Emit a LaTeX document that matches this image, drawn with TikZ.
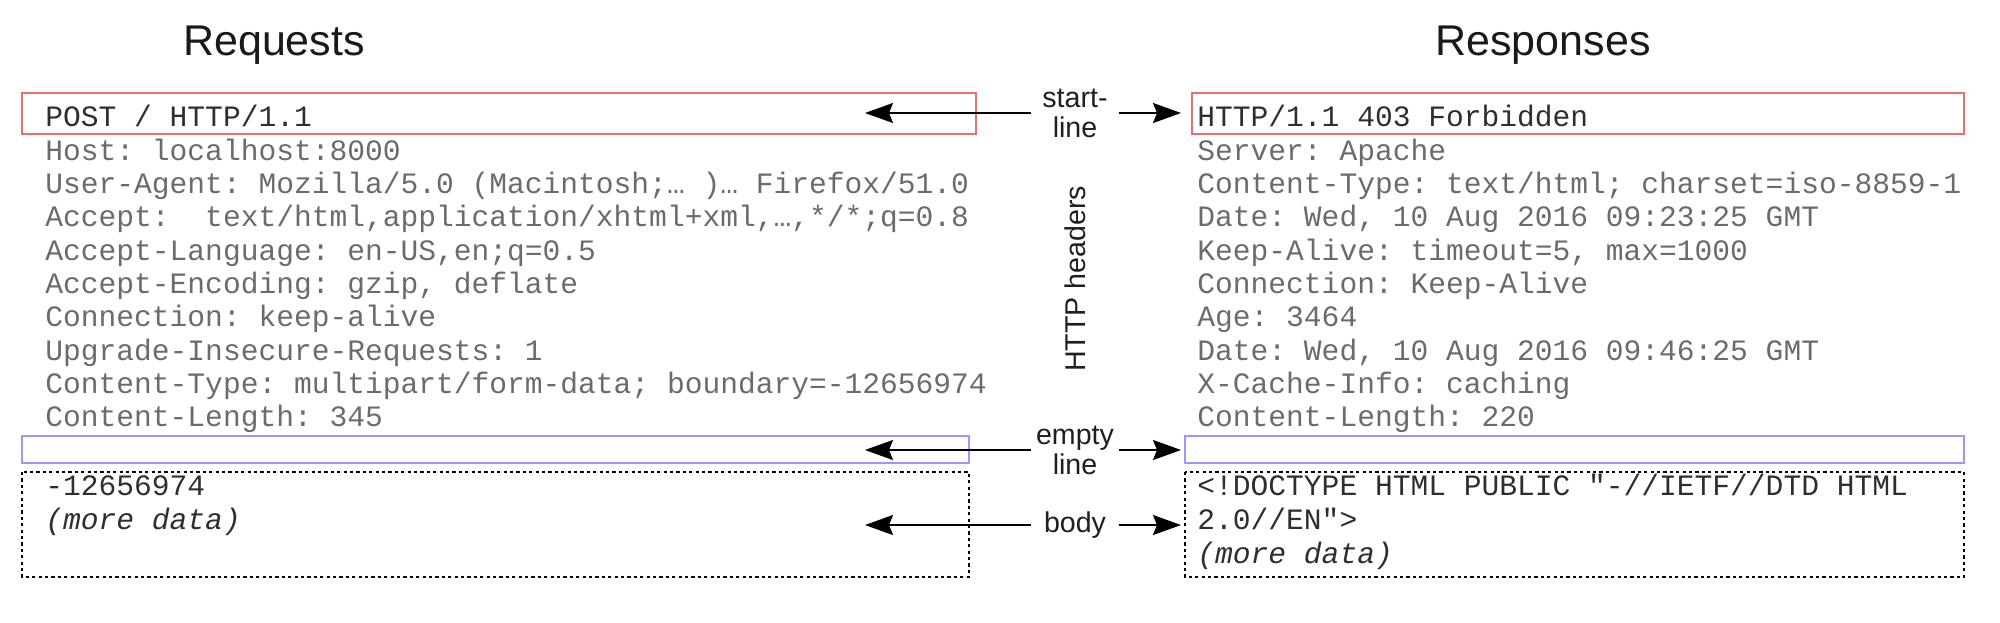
\documentclass[tikz,border=0pt]{standalone}
\usepackage{fontspec}
\setmainfont{Liberation Sans}
\setmonofont{Liberation Mono}
\usetikzlibrary{arrows.meta}
\definecolor{startred}{RGB}{236,112,106}
\definecolor{emptyblue}{RGB}{152,152,252}

\begin{document}
\begin{tikzpicture}[x=0.5pt,y=-0.5pt,
        title/.style={anchor=base,inner sep=0pt,font=\fontsize{21.5}{24}\selectfont,text=black!90},
        lbl/.style={inner sep=0pt,minimum width=44pt,align=center,font=\fontsize{14.3}{15}\selectfont,text=black!88},
        msg/.style={anchor=base west,inner sep=0pt,font=\ttfamily\fontsize{14.8}{16}\selectfont,text=black!58},
        firstline/.style={msg,text=black!82},
        ptr/.style={line width=1pt,-{Stealth[length=14pt,width=10pt,inset=2pt]}}]
            \useasboundingbox (0,0) rectangle (2000,622);

            % titles
            \node[title] (req) at (274,55) {Requests};
            \node[title] (resp) at (1543,55) {Responses};

            % boxes
            \draw[startred,line width=1pt] (22,93) rectangle (976,134);
            \draw[startred,line width=1pt] (1192,93) rectangle (1964,134);
            \draw[emptyblue,line width=1pt] (22,436) rectangle (969,463);
            \draw[emptyblue,line width=1pt] (1185,436) rectangle (1964,463);
            \draw[line width=0.7pt,dash pattern=on 1.6pt off 1.6pt] (22,472) rectangle (969,577);
            \draw[line width=0.7pt,dash pattern=on 1.6pt off 1.6pt] (1185,472) rectangle (1964,577);

            % request
            \node[firstline] (q0) at (45,126.7) {POST / HTTP/1.1};
            \node[msg] (q1) at (45,160) {Host: localhost:8000};
            \node[msg] (q2) at (45,193.3) {User-Agent: Mozilla/5.0 (Macintosh;… )… Firefox/51.0};
            \node[msg] (q3) at (45,226.7) {Accept:\ \ text/html,application/xhtml+xml,…,*/*;q=0.8};
            \node[msg] (q4) at (45,260) {Accept-Language: en-US,en;q=0.5};
            \node[msg] (q5) at (45,293.3) {Accept-Encoding: gzip, deflate};
            \node[msg] (q6) at (45,326.7) {Connection: keep-alive};
            \node[msg] (q7) at (45,360) {Upgrade-Insecure-Requests: 1};
            \node[msg] (q8) at (45,393.3) {Content-Type: multipart/form-data; boundary=-12656974};
            \node[msg] (q9) at (45,426.7) {Content-Length: 345};
            \node[firstline] (qb0) at (45,495) {-12656974};
            \node[firstline] (qb1) at (45,529) {\itshape (more data)};

            % response
            \node[firstline] (r0) at (1197,126.7) {HTTP/1.1 403 Forbidden};
            \node[msg] (r1) at (1197,160) {Server: Apache};
            \node[msg] (r2) at (1197,193.3) {Content-Type: text/html; charset=iso-8859-1};
            \node[msg] (r3) at (1197,226.7) {Date: Wed, 10 Aug 2016 09:23:25 GMT};
            \node[msg] (r4) at (1197,260) {Keep-Alive: timeout=5, max=1000};
            \node[msg] (r5) at (1197,293.3) {Connection: Keep-Alive};
            \node[msg] (r6) at (1197,326.7) {Age: 3464};
            \node[msg] (r7) at (1197,360) {Date: Wed, 10 Aug 2016 09:46:25 GMT};
            \node[msg] (r8) at (1197,393.3) {X-Cache-Info: caching};
            \node[msg] (r9) at (1197,426.7) {Content-Length: 220};
            \node[firstline] (rb0) at (1197,495) {<!DOCTYPE HTML PUBLIC "-//IETF//DTD HTML};
            \node[firstline] (rb1) at (1197,529) {2.0//EN">};
            \node[firstline] (rb2) at (1197,563) {\itshape (more data)};

            % labels in the middle
            \node[lbl] (startlbl) at (1075,113) {start-\\line};
            \node[inner sep=0pt,rotate=90,font=\fontsize{14.3}{15}\selectfont,text=black!88] (hdrlbl) at (1075,279) {HTTP headers};
            \node[lbl] (emptylbl) at (1075,450) {empty\\line};
            \node[lbl] (bodylbl) at (1075,525) {body};

            \coordinate (reqstart) at (865,113);
            \coordinate (respstart) at (1181,113);
            \coordinate (reqempty) at (865,450);
            \coordinate (respempty) at (1181,450);
            \coordinate (reqbody) at (865,525);
            \coordinate (respbody) at (1181,525);

            \draw[ptr] (startlbl.west) -- (reqstart);
            \draw[ptr] (startlbl.east) -- (respstart);
            \draw[ptr] (emptylbl.west) -- (reqempty);
            \draw[ptr] (emptylbl.east) -- (respempty);
            \draw[ptr] (bodylbl.west) -- (reqbody);
            \draw[ptr] (bodylbl.east) -- (respbody);
        \end{tikzpicture}
\end{document}
